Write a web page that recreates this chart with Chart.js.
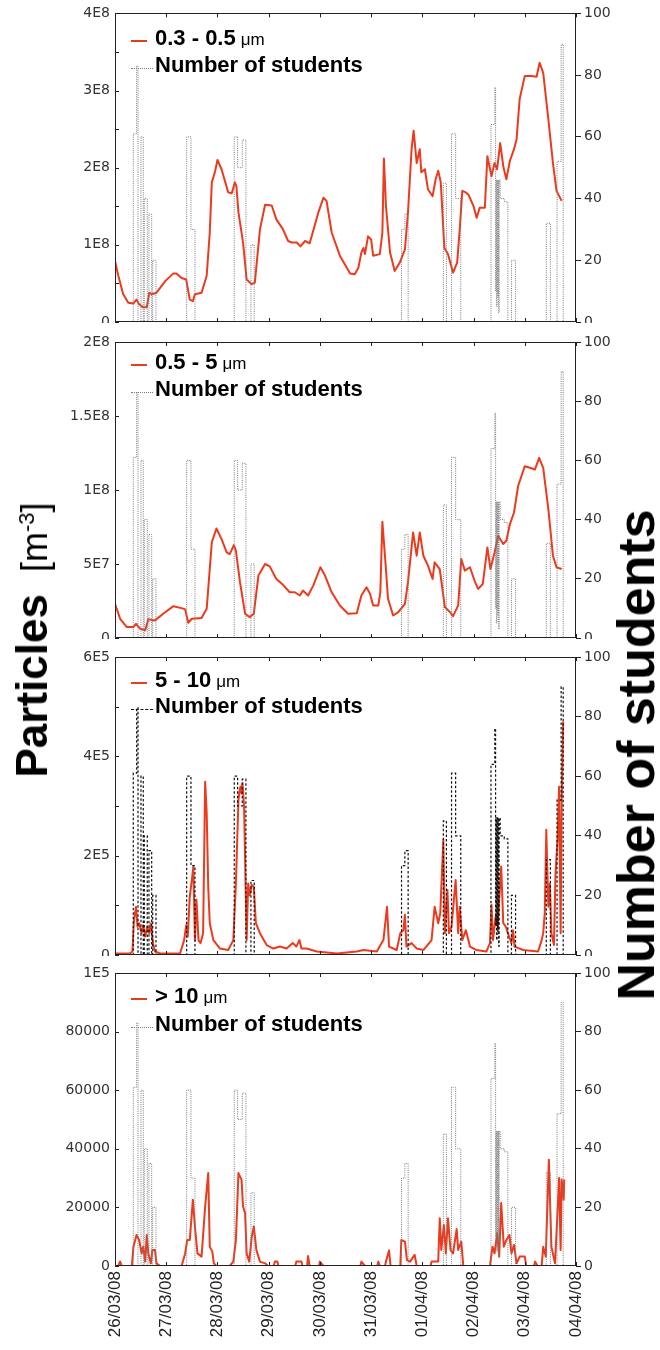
<!DOCTYPE html>
<html>
<head>
<meta charset="utf-8">
<script src="https://cdn.jsdelivr.net/npm/chart.js@4.4.0/dist/chart.umd.min.js"></script>
<style>
  html, body { margin:0; padding:0; background:#fff; }
  #wrap { position:relative; width:660px; height:1350px; overflow:hidden; font-family:Arial, "Liberation Sans", sans-serif; }
  canvas { position:absolute; left:0; }
  .lg { position:absolute; white-space:nowrap; line-height:1; color:#000; z-index:5; }
  .lg b { font-size:22px; }
  .lg .um { font-size:17px; font-weight:normal; margin-left:5px; }
  .mk { position:absolute; z-index:5; }
  .title { position:absolute; white-space:nowrap; line-height:1; transform:translate(-50%,-50%) rotate(-90deg); z-index:5; color:#000; }
</style>
</head>
<body>
<div id="wrap">
  <canvas id="c1" width="660" height="340" style="top:0px"></canvas>
  <canvas id="c2" width="660" height="332" style="top:323px"></canvas>
  <canvas id="c3" width="660" height="332" style="top:639px"></canvas>
  <canvas id="c4" width="660" height="394" style="top:956px"></canvas>

  <div class="title" style="left:32px;top:640px"><b style="font-size:44px">Particles</b><span style="font-size:36px;margin-left:22px">[m<sup style="font-size:22px">-3</sup>]</span></div>
  <div class="title" style="left:636px;top:755px"><b style="font-size:52px">Number of students</b></div>
</div>

<script>
// x axis: days since 26/03/08
const dayLabels = ['26/03/08','27/03/08','28/03/08','29/03/08','30/03/08','31/03/08','01/04/08','02/04/08','03/04/08','04/04/08'];

// number of students, step starts [day, count]
const students = [
  [0,0],[0.357,61],[0.423,83],[0.449,0],[0.507,60],[0.552,0],[0.572,40],[0.630,0],[0.663,35],[0.716,0],[0.736,20],[0.800,0],
  [1.399,60],[1.483,30],[1.561,0],
  [2.328,60],[2.394,50],[2.484,59],[2.556,0],[2.654,25],[2.718,0],
  [5.594,30],[5.659,35],[5.723,0],
  [6.41,45],[6.47,0],[6.57,61],[6.65,40],[6.75,0],
  [7.34,64],[7.415,76],[7.43,10],[7.44,46],[7.45,5],[7.46,46],[7.47,8],[7.48,46],[7.49,3],[7.50,46],[7.52,40],[7.60,39],[7.67,0],[7.74,20],[7.82,0],
  [8.42,32],[8.50,0],[8.63,52],[8.71,90],[8.75,0]
];

// 0.3 - 0.5 um  [m-3]
const size03 = [
  [0,0.79e8],[0.065,0.60e8],[0.16,0.36e8],[0.26,0.25e8],[0.36,0.24e8],[0.42,0.29e8],[0.47,0.23e8],[0.55,0.19e8],[0.62,0.19e8],
  [0.67,0.38e8],[0.72,0.36e8],[0.81,0.38e8],[0.98,0.53e8],[1.14,0.63e8],[1.20,0.63e8],[1.30,0.57e8],[1.39,0.55e8],[1.46,0.29e8],
  [1.52,0.27e8],[1.56,0.36e8],[1.69,0.38e8],[1.79,0.60e8],[1.85,1.16e8],[1.89,1.81e8],[1.95,1.94e8],[2.00,2.10e8],[2.08,1.98e8],
  [2.21,1.68e8],[2.28,1.67e8],[2.34,1.81e8],[2.37,1.76e8],[2.41,1.42e8],[2.50,1.03e8],[2.57,0.55e8],[2.67,0.49e8],[2.73,0.51e8],
  [2.83,1.20e8],[2.93,1.52e8],[3.06,1.51e8],[3.15,1.33e8],[3.28,1.20e8],[3.38,1.05e8],[3.45,1.03e8],[3.55,1.03e8],[3.62,0.98e8],
  [3.71,1.05e8],[3.80,1.02e8],[3.86,1.16e8],[3.97,1.42e8],[4.07,1.61e8],[4.13,1.57e8],[4.23,1.16e8],[4.39,0.86e8],[4.59,0.63e8],
  [4.68,0.62e8],[4.75,0.70e8],[4.81,0.90e8],[4.85,0.96e8],[4.88,0.88e8],[4.94,1.11e8],[5.00,1.07e8],[5.04,0.86e8],[5.17,0.88e8],
  [5.22,1.16e8],[5.25,2.12e8],[5.29,1.50e8],[5.37,0.90e8],[5.46,0.66e8],[5.56,0.77e8],[5.66,0.94e8],[5.72,1.42e8],[5.79,2.24e8],
  [5.83,2.48e8],[5.89,2.06e8],[5.95,2.24e8],[5.98,1.94e8],[6.05,1.98e8],[6.11,1.72e8],[6.20,1.63e8],[6.26,1.85e8],[6.31,1.96e8],
  [6.36,1.81e8],[6.43,0.96e8],[6.50,0.88e8],[6.60,0.64e8],[6.68,0.77e8],[6.73,1.20e8],[6.78,1.70e8],[6.85,1.68e8],[6.90,1.65e8],
  [7.00,1.50e8],[7.06,1.35e8],[7.12,1.48e8],[7.22,1.48e8],[7.27,2.15e8],[7.35,1.89e8],[7.41,2.06e8],[7.46,1.98e8],[7.52,2.32e8],
  [7.58,2.02e8],[7.64,1.85e8],[7.71,2.09e8],[7.79,2.24e8],[7.84,2.37e8],[7.90,2.89e8],[8.00,3.19e8],[8.13,3.19e8],[8.23,3.18e8],
  [8.29,3.36e8],[8.36,3.23e8],[8.46,2.63e8],[8.55,2.06e8],[8.62,1.70e8],[8.72,1.57e8]
];

// 0.5 - 5 um
const size05 = [
  [0,2.31e7],[0.10,1.30e7],[0.23,0.74e7],[0.36,0.74e7],[0.41,0.96e7],[0.49,0.63e7],[0.59,0.52e7],[0.65,1.26e7],[0.78,1.19e7],
  [0.94,1.64e7],[1.14,2.15e7],[1.30,2.02e7],[1.37,1.93e7],[1.43,1.03e7],[1.50,1.30e7],[1.69,1.35e7],[1.79,1.97e7],[1.89,6.46e7],
  [1.98,7.40e7],[2.08,6.68e7],[2.18,5.78e7],[2.24,5.67e7],[2.32,6.28e7],[2.36,5.90e7],[2.44,3.77e7],[2.54,1.64e7],[2.63,1.41e7],
  [2.71,1.64e7],[2.80,4.22e7],[2.93,5.00e7],[3.02,4.84e7],[3.15,3.99e7],[3.28,3.59e7],[3.41,3.09e7],[3.51,3.09e7],[3.61,2.87e7],
  [3.67,3.21e7],[3.77,2.87e7],[3.87,3.54e7],[4.01,4.78e7],[4.10,4.22e7],[4.23,3.09e7],[4.39,2.20e7],[4.55,1.64e7],[4.72,1.68e7],
  [4.81,2.87e7],[4.91,3.43e7],[4.98,2.98e7],[5.04,2.20e7],[5.14,2.20e7],[5.18,3.09e7],[5.22,7.85e7],[5.28,5.11e7],[5.33,2.65e7],
  [5.43,1.52e7],[5.53,1.75e7],[5.66,2.31e7],[5.72,3.77e7],[5.82,7.13e7],[5.89,5.56e7],[5.95,7.13e7],[6.02,5.56e7],[6.11,4.89e7],
  [6.20,3.99e7],[6.24,5.11e7],[6.34,4.66e7],[6.44,2.09e7],[6.54,1.75e7],[6.60,1.48e7],[6.70,2.20e7],[6.76,5.34e7],[6.83,4.55e7],
  [6.93,4.78e7],[7.03,3.77e7],[7.09,3.32e7],[7.18,3.65e7],[7.27,6.12e7],[7.33,4.66e7],[7.41,5.78e7],[7.48,6.91e7],[7.58,6.35e7],
  [7.64,6.57e7],[7.71,7.69e7],[7.79,8.48e7],[7.87,10.27e7],[8.00,11.61e7],[8.10,11.50e7],[8.20,11.39e7],[8.28,12.17e7],
  [8.36,11.50e7],[8.46,8.70e7],[8.55,5.56e7],[8.62,4.78e7],[8.72,4.66e7]
];

// 5 - 10 um
const size5 = [
  [0,0.03e5],[0.29,0.03e5],[0.34,0.07e5],[0.37,0.70e5],[0.41,0.97e5],[0.44,0.57e5],[0.47,0.64e5],[0.52,0.44e5],[0.55,0.60e5],
  [0.59,0.37e5],[0.63,0.57e5],[0.67,0.44e5],[0.70,0.64e5],[0.74,0.24e5],[0.78,0.07e5],[0.88,0.03e5],[1.27,0.03e5],[1.35,0.30e5],
  [1.39,0.60e5],[1.42,0.37e5],[1.46,1.18e5],[1.50,1.51e5],[1.53,1.78e5],[1.56,0.30e5],[1.59,1.11e5],[1.63,0.30e5],[1.67,0.24e5],
  [1.72,0.44e5],[1.76,3.49e5],[1.79,2.86e5],[1.82,1.38e5],[1.85,0.64e5],[1.92,0.30e5],[2.05,0.13e5],[2.21,0.10e5],[2.31,0.30e5],
  [2.36,1.44e5],[2.41,3.12e5],[2.43,3.30e5],[2.45,3.39e5],[2.47,3.25e5],[2.49,3.46e5],[2.52,2.99e5],[2.54,1.92e5],[2.57,0.30e5],
  [2.60,1.44e5],[2.63,1.20e5],[2.67,1.41e5],[2.71,1.38e5],[2.75,0.64e5],[2.83,0.44e5],[2.96,0.20e5],[3.09,0.13e5],[3.22,0.17e5],
  [3.35,0.13e5],[3.47,0.24e5],[3.54,0.17e5],[3.60,0.30e5],[3.64,0.13e5],[3.74,0.13e5],[3.94,0.07e5],[4.33,0.03e5],[4.72,0.07e5],
  [4.85,0.10e5],[5.11,0.07e5],[5.24,0.30e5],[5.29,0.77e5],[5.31,0.97e5],[5.35,0.17e5],[5.50,0.10e5],[5.57,0.44e5],[5.63,0.50e5],
  [5.66,0.81e5],[5.69,0.17e5],[5.79,0.24e5],[5.89,0.13e5],[6.02,0.10e5],[6.18,0.30e5],[6.24,0.97e5],[6.31,0.64e5],[6.35,0.84e5],
  [6.41,2.32e5],[6.44,0.44e5],[6.49,1.31e5],[6.52,0.44e5],[6.57,0.57e5],[6.65,1.51e5],[6.70,0.44e5],[6.73,0.97e5],[6.78,0.30e5],
  [6.85,0.50e5],[6.93,0.17e5],[7.06,0.10e5],[7.25,0.07e5],[7.32,0.24e5],[7.35,1.01e5],[7.38,0.30e5],[7.43,0.77e5],[7.47,0.57e5],
  [7.50,1.11e5],[7.54,1.78e5],[7.58,0.64e5],[7.63,0.57e5],[7.67,0.44e5],[7.74,0.24e5],[7.77,0.50e5],[7.80,0.17e5],[7.97,0.10e5],
  [8.26,0.07e5],[8.33,0.30e5],[8.36,0.44e5],[8.39,0.84e5],[8.42,2.52e5],[8.46,0.97e5],[8.49,1.44e5],[8.52,0.44e5],[8.57,0.20e5],
  [8.60,1.65e5],[8.64,2.32e5],[8.67,3.39e5],[8.70,0.44e5],[8.72,3.12e5],[8.75,4.70e5]
];

// > 10 um
const size10 = [
  [0,0],[0.06,0],[0.10,1500],[0.13,0],[0.33,0],[0.36,6600],[0.42,10600],[0.47,8900],[0.52,4300],[0.55,6600],[0.59,1500],
  [0.62,10600],[0.65,4300],[0.70,900],[0.73,5500],[0.78,5500],[0.81,900],[0.88,0],[1.30,0],[1.37,4300],[1.41,8900],[1.46,8900],
  [1.52,22600],[1.56,13500],[1.61,4300],[1.69,3200],[1.76,20300],[1.82,31700],[1.85,6600],[1.90,4900],[1.93,900],[1.98,0],
  [2.24,0],[2.31,1500],[2.36,8900],[2.41,31700],[2.47,29500],[2.50,20300],[2.54,18000],[2.57,4300],[2.62,1500],[2.67,10000],
  [2.71,13500],[2.76,5500],[2.83,1500],[2.93,900],[2.99,0],[3.10,0],[3.12,1500],[3.17,1500],[3.19,0],[3.52,0],[3.54,1500],
  [3.64,1500],[3.66,0],[3.75,0],[3.77,3400],[3.80,0],[3.98,0],[4.00,1500],[4.07,0],[4.79,0],[4.81,1500],[4.88,0],[5.12,0],
  [5.14,1500],[5.17,0],[5.27,0],[5.29,1500],[5.35,5300],[5.38,0],[5.57,0],[5.59,8900],[5.66,8300],[5.70,2000],[5.76,1500],
  [5.85,3800],[5.89,0],[6.16,0],[6.18,1500],[6.31,1500],[6.34,16300],[6.37,5500],[6.42,14000],[6.46,4300],[6.50,16300],
  [6.55,5500],[6.60,4300],[6.67,12600],[6.70,5500],[6.76,8300],[6.80,0],[7.32,0],[7.37,6600],[7.41,4300],[7.46,11200],
  [7.50,3200],[7.54,21500],[7.59,6600],[7.64,8900],[7.70,10600],[7.74,4300],[7.79,7200],[7.84,900],[7.90,3200],[8.00,3200],
  [8.03,0],[8.18,0],[8.20,1500],[8.25,0],[8.33,0],[8.36,6600],[8.41,3200],[8.47,36300],[8.52,6600],[8.59,900],[8.64,18600],
  [8.67,30000],[8.70,5500],[8.72,29500],[8.76,22600],[8.77,29500]
];

// tick labels
const yLabels1 = ['0','1E8','2E8','3E8','4E8'];
const yLabels2 = ['0','5E7','1E8','1.5E8','2E8'];
const yLabels3 = ['0','2E5','4E5','6E5'];
const yLabels4 = ['0','20000','40000','60000','80000','1E5'];
const studentLabels = ['0','20','40','60','80','100'];

const seriesNames = ['0.3 - 0.5', '0.5 - 5', '5 - 10', '> 10'];

const panels = [
  {id:'c1', padTop:13, padBottom:18, data:size03, yMax:4e8, minor:2, labels:yLabels1, name:seriesNames[0], base1:45.7, base2:72.7, dark:false},
  {id:'c2', padTop:19, padBottom:17, data:size05, yMax:2e8, minor:1, labels:yLabels2, name:seriesNames[1], base1:370, base2:396.7, dark:false},
  {id:'c3', padTop:18, padBottom:16, data:size5,  yMax:6e5, minor:2, labels:yLabels3, name:seriesNames[2], base1:687.7, base2:713.5, dark:true},
  {id:'c4', padTop:17, padBottom:0,  data:size10, yMax:1e5, minor:1, labels:yLabels4, name:seriesNames[3], base1:1004, base2:1031.7, dark:false, bottom:true},
];

const RED = '#ec3a1e';

// white background, frame and inward ticks
const framePlugin = {
  id: 'frame',
  beforeDraw(chart) {
    const ctx = chart.ctx;
    ctx.save();
    ctx.fillStyle = '#fff';
    ctx.fillRect(0, 0, chart.width, chart.height);
    ctx.restore();
  },
  afterDraw(chart) {
    const {ctx, chartArea:a, scales} = chart;
    ctx.save();
    ctx.strokeStyle = '#222';
    ctx.lineWidth = 1;
    ctx.strokeRect(Math.round(a.left)+0.5, Math.round(a.top)+0.5, Math.round(a.width)-1, Math.round(a.height)-1);
    ctx.beginPath();
    scales.x.ticks.forEach(t => {
      const px = Math.round(scales.x.getPixelForValue(t.value)) + 0.5;
      ctx.moveTo(px, a.bottom); ctx.lineTo(px, a.bottom - 4);
      ctx.moveTo(px, a.top);    ctx.lineTo(px, a.top + 4);
    });
    scales.y.ticks.forEach(t => {
      const py = Math.round(scales.y.getPixelForValue(t.value)) + 0.5;
      ctx.moveTo(a.left, py); ctx.lineTo(a.left + 4, py);
    });
    ctx.stroke();
    ctx.restore();
  }
};

const pts = arr => arr.map(p => ({x:p[0], y:p[1]}));
const wrap = document.getElementById('wrap');

panels.forEach(p => {
  new Chart(document.getElementById(p.id), {
    type: 'line',
    data: {
      datasets: [
        {
          data: pts(students), yAxisID:'y2', stepped:true,
          borderColor: p.dark ? '#111' : '#7a7a7a', borderWidth: p.dark ? 1.2 : 1,
          borderDash: p.dark ? [2.5,2] : [1,1.2], pointRadius:0, fill:false
        },
        {
          data: pts(p.data), yAxisID:'y',
          borderColor: RED, borderWidth: 2, pointRadius:0, tension:0, fill:false,
          borderJoinStyle:'round'
        }
      ]
    },
    options: {
      responsive:false, animation:false, events:[],
      layout:{padding:{top:p.padTop, bottom:p.padBottom, left:0, right:0}},
      plugins:{legend:{display:false}, tooltip:{enabled:false}},
      scales:{
        x:{
          type:'linear', min:0, max:9,
          grid:{display:false, drawTicks:false}, border:{display:false},
          ticks: p.bottom ? {
            stepSize:1, autoSkip:false, minRotation:90, maxRotation:90, padding:5,
            color:'#222', font:{family:'Arial', size:17},
            callback:(v) => dayLabels[Math.round(v)]
          } : {stepSize:1, display:false},
          afterFit(s){ s.height = p.bottom ? 84 : 0; }
        },
        y:{
          position:'left', min:0, max:p.yMax,
          grid:{display:false, drawTicks:false}, border:{display:false},
          ticks:{
            stepSize: p.yMax / (p.labels.length - 1) / p.minor, padding:5, autoSkip:false,
            color:'#333', font:{family:'DejaVu Sans', size:14},
            callback:(v, i) => (i % p.minor === 0) ? p.labels[i / p.minor] : ''
          },
          afterFit(s){ s.width = 115; }
        },
        y2:{
          position:'right', min:0, max:100,
          grid:{display:true, drawOnChartArea:false, drawTicks:true, tickLength:5, color:'#222'},
          border:{display:false},
          ticks:{stepSize:20, padding:3, color:'#333', font:{family:'DejaVu Sans', size:14},
            callback:(v, i) => studentLabels[i]},
          afterFit(s){ s.width = 84; }
        }
      }
    },
    plugins:[framePlugin]
  });

  // legend
  const l1 = document.createElement('div');
  l1.className = 'lg';
  l1.style.left = '155px';
  l1.style.top = (p.base1 - 0.8465*22) + 'px';
  l1.innerHTML = '<b>' + p.name + '</b><span class="um">\u03bcm</span>';
  wrap.appendChild(l1);

  const l2 = document.createElement('div');
  l2.className = 'lg';
  l2.style.left = '155px';
  l2.style.top = (p.base2 - 0.8465*22) + 'px';
  l2.innerHTML = '<b>Number of students</b>';
  wrap.appendChild(l2);

  const m1 = document.createElement('div');
  m1.className = 'mk';
  m1.style.cssText = 'left:131px;width:16px;top:' + (p.base1 - 6) + 'px;border-top:2px solid ' + RED + ';';
  wrap.appendChild(m1);

  const m2 = document.createElement('div');
  m2.className = 'mk';
  m2.style.cssText = 'left:131px;width:22px;top:' + (p.base2 - 5) + 'px;border-top:1px ' + (p.dark ? 'dashed #111' : 'dotted #7a7a7a') + ';';
  wrap.appendChild(m2);
});
</script>
</body>
</html>
